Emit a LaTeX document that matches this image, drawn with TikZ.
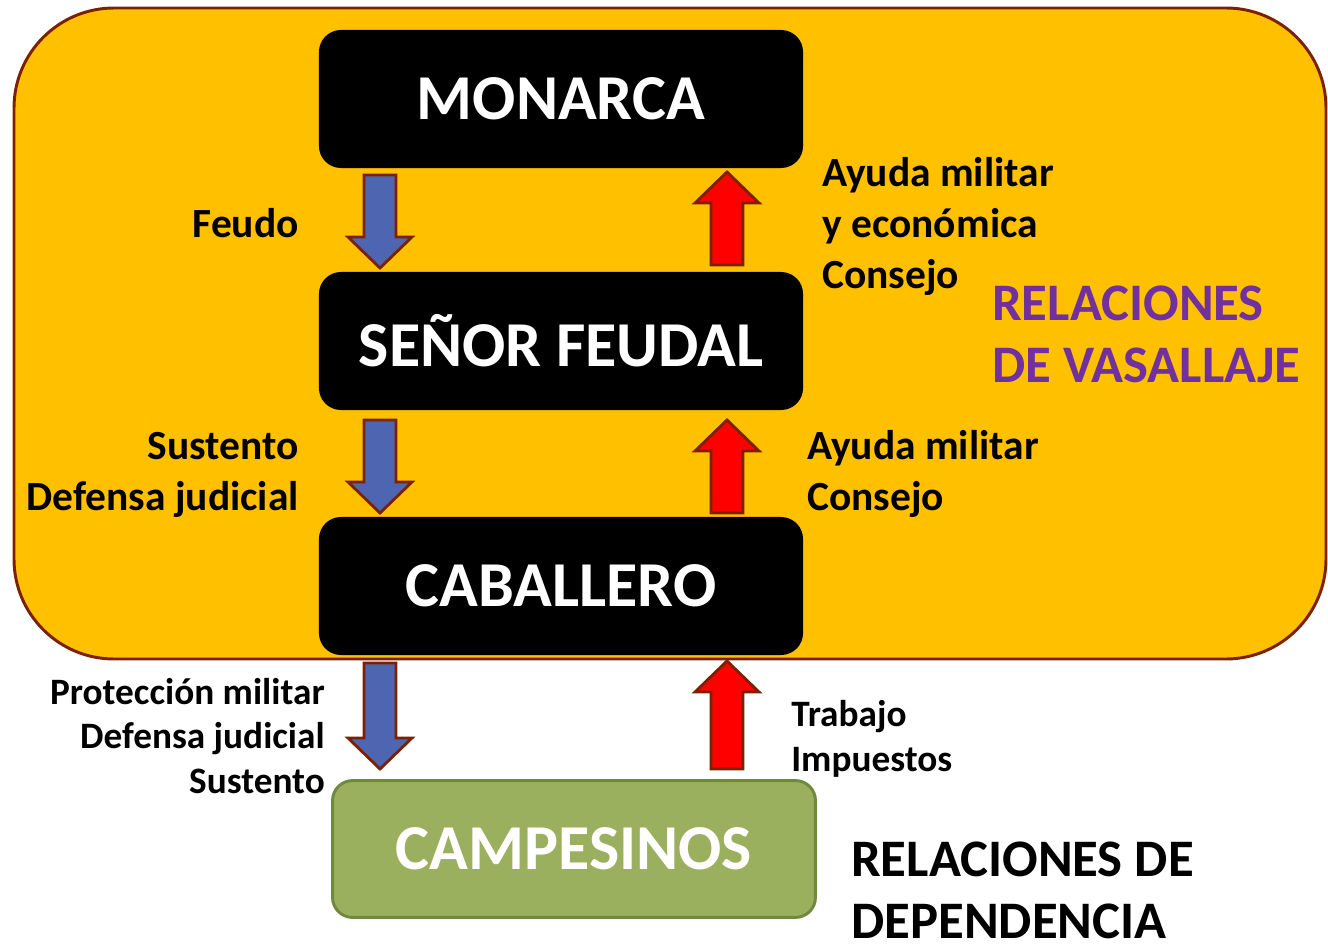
\documentclass[tikz,border=0pt]{standalone}
\usepackage{fontspec}
\setmainfont{Carlito}
\definecolor{naranja}{HTML}{FFC000}
\definecolor{marron}{HTML}{7B2100}
\definecolor{azul}{HTML}{4E66B2}
\definecolor{verde}{HTML}{9BB05E}
\definecolor{verdeborde}{HTML}{71893F}
\definecolor{morado}{HTML}{7030A0}
\tikzset{
  caja/.style={fill=black, text=white, rounded corners=0.55cm, minimum width=12.1cm,
    minimum height=3.45cm, font=\fontsize{45.5}{50}\selectfont\bfseries},
  etiq/.style={inner sep=0pt, font=\fontsize{29.5}{36.3}\selectfont\bfseries},
  etiqchica/.style={inner sep=0pt, font=\fontsize{26.5}{31.7}\selectfont\bfseries},
  titulo/.style={inner sep=0pt, align=left, anchor=west, font=\fontsize{37.5}{44}\selectfont\bfseries},
  flecha/.style={draw=marron, line width=2pt, line join=miter}
}
% flechas gruesas: x, cola, punta
\newcommand\bajar[3]{\draw[flecha, fill=azul] ({#1-16},#2)--({#1+16},#2)--({#1+16},{#3-31})--({#1+32},{#3-31})--(#1,#3)--({#1-32},{#3-31})--({#1-16},{#3-31})--cycle;}
\newcommand\subir[3]{\draw[flecha, fill=red] ({#1-16},#2)--({#1+16},#2)--({#1+16},{#3+31})--({#1+32},{#3+31})--(#1,#3)--({#1-32},{#3+31})--({#1-16},{#3+31})--cycle;}
\begin{document}
\begin{tikzpicture}[x=0.025cm,y=-0.025cm]
\useasboundingbox (0,0) rectangle (1328,944);
\draw[fill=naranja, draw=marron, line width=2.1pt, rounded corners=2.5cm] (14,8) rectangle (1326,659);
\node[caja] (monarca) at (561,99) {MONARCA};
\node[caja] (senor) at (561,341) {SEÑOR FEUDAL};
\node[caja] (caballero) at (561,586) {CABALLERO};
\node[fill=verde, draw=verdeborde, line width=2.1pt, text=white, rounded corners=0.5cm,
  minimum width=12.07cm, minimum height=3.42cm, font=\fontsize{45.5}{50}\selectfont\bfseries]
  (campesinos) at (574,849) {CAMPESINOS};
\bajar{380}{175}{268}
\subir{727}{265}{172}
\bajar{380}{420}{513}
\subir{727}{513}{420}
\bajar{380}{663}{769}
\subir{727}{769}{661}
\node[etiq, anchor=east] (feudo) at (299,223) {Feudo};
\node[etiq, anchor=west, align=left] (ayuda1) at (822,226) {Ayuda militar\\y económica\\Consejo};
\node[etiq, anchor=east, align=right] (sustento) at (299,475) {Sustento\\Defensa judicial};
\node[etiq, anchor=west, align=left] (ayuda2) at (807,474) {Ayuda militar\\Consejo};
\node[etiqchica, anchor=east, align=right] (proteccion) at (325,736) {Protección militar\\Defensa judicial\\Sustento};
\node[etiqchica, anchor=west, align=left] (trabajo) at (791,739) {Trabajo\\Impuestos};
\node[titulo, text=morado] (vasallaje) at (992,334) {RELACIONES\\DE VASALLAJE};
\node[titulo, text=black] (dependencia) at (851,890) {RELACIONES DE\\DEPENDENCIA};
\end{tikzpicture}
\end{document}
